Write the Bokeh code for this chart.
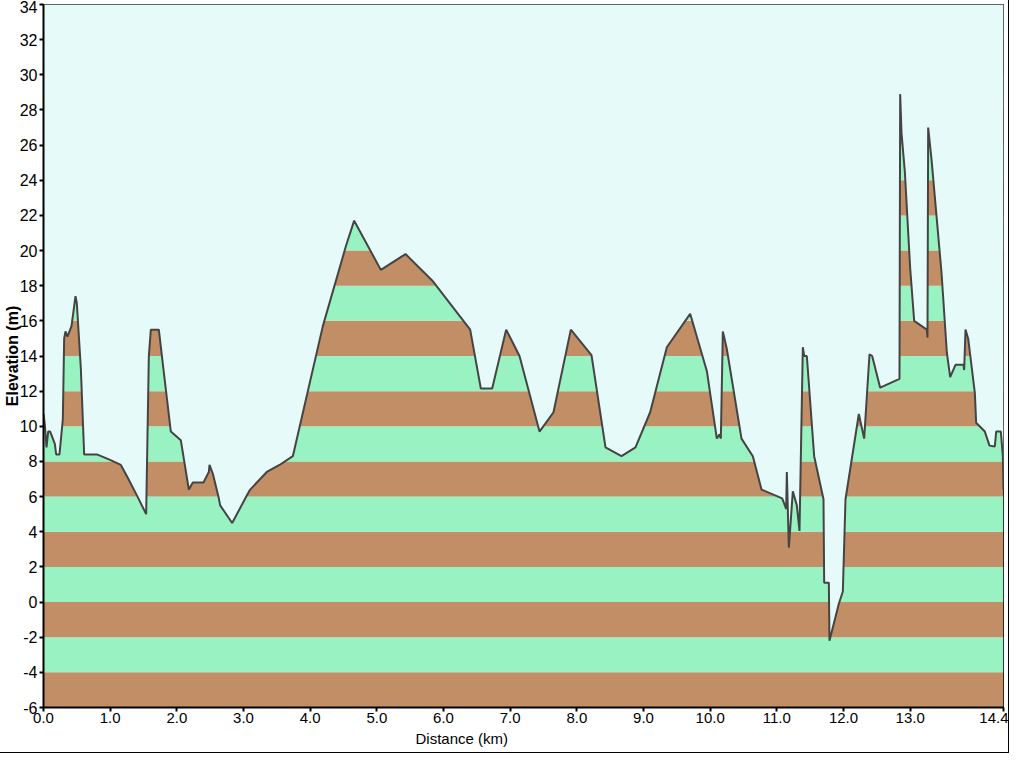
from bokeh.plotting import figure
from bokeh.models import FixedTicker, NumeralTickFormatter, Title, ColumnDataSource
from bokeh.embed import file_html
from bokeh.resources import INLINE

# ---- data -------------------------------------------------------------
distance_km = [0.00, 0.02, 0.045, 0.07, 0.10, 0.17, 0.19, 0.24, 0.29, 0.31,
               0.33, 0.36, 0.42, 0.48, 0.50, 0.56, 0.61, 0.80, 0.99, 1.16,
               1.26, 1.41, 1.54, 1.58, 1.61, 1.73, 1.81, 1.91, 2.06, 2.18,
               2.24, 2.40, 2.48, 2.49, 2.54, 2.63, 2.65, 2.83, 3.07, 3.10,
               3.35, 3.54, 3.74, 4.19, 4.54, 4.66, 5.06, 5.43, 5.83, 6.40,
               6.56, 6.73, 6.94, 7.14, 7.44, 7.65, 7.91, 8.22, 8.43, 8.67,
               8.88, 9.10, 9.35, 9.70, 9.95, 10.10, 10.14, 10.16, 10.19, 10.25,
               10.47, 10.64, 10.77, 11.08, 11.14, 11.15, 11.18, 11.24, 11.30, 11.34,
               11.39, 11.41, 11.45, 11.56, 11.70, 11.71, 11.78, 11.79, 11.93, 11.99,
               12.03, 12.23, 12.31, 12.39, 12.43, 12.55, 12.84, 12.85, 12.87, 12.92,
               13.00, 13.06, 13.25, 13.26, 13.27, 13.32, 13.47, 13.55, 13.60, 13.68,
               13.80, 13.81, 13.83, 13.87, 13.97, 13.99, 14.12, 14.19, 14.27, 14.29,
               14.36, 14.39, 14.40]
elevation_m = [10.7, 10.1, 8.8, 9.7, 9.7, 9.0, 8.4, 8.4, 10.4, 15.0,
               15.4, 15.1, 15.7, 17.4, 17.0, 13.3, 8.4, 8.4, 8.1, 7.8,
               7.1, 6.0, 5.0, 14.0, 15.5, 15.5, 12.9, 9.7, 9.2, 6.4,
               6.8, 6.8, 7.4, 7.8, 7.3, 5.9, 5.5, 4.5, 6.2, 6.4,
               7.4, 7.8, 8.3, 15.7, 20.3, 21.7, 18.9, 19.8, 18.3, 15.5,
               12.15, 12.15, 15.5, 14.0, 9.7, 10.8, 15.5, 14.05, 8.8, 8.3,
               8.8, 10.8, 14.5, 16.4, 13.15, 9.3, 9.55, 9.3, 15.4, 14.4,
               9.3, 8.3, 6.4, 5.9, 5.3, 7.4, 3.1, 6.3, 5.5, 4.05,
               14.5, 14.0, 14.0, 8.3, 5.85, 1.1, 1.1, -2.2, -0.1, 0.6,
               5.85, 10.7, 9.3, 14.1, 14.0, 12.2, 12.7, 28.9, 26.7, 24.5,
               19.0, 16.0, 15.5, 15.05, 27.0, 25.2, 18.75, 14.2, 12.8, 13.5,
               13.5, 13.2, 15.5, 15.0, 11.9, 10.2, 9.7, 8.9, 8.85, 9.7,
               9.7, 8.3, 6.4]

band_bottoms = [-6, -4, -2, 0, 2, 4, 6, 8, 10, 12, 14, 16, 18, 20, 22, 24, 26, 28, 30, 32]
band_tops = [-4, -2, 0, 2, 4, 6, 8, 10, 12, 14, 16, 18, 20, 22, 24, 26, 28, 30, 32, 34]

x_ticks = [0, 1, 2, 3, 4, 5, 6, 7, 8, 9, 10, 11, 12, 13, 14.4]
y_ticks = [-6, -4, -2, 0, 2, 4, 6, 8, 10, 12, 14, 16, 18, 20, 22, 24, 26, 28, 30, 32, 34]

X_MIN, X_MAX = 0, 14.4
Y_MIN, Y_MAX = -6, 34

BROWN = "#c28e66"
GREEN = "#98f2c2"
BG = "#e6fafa"
FONT = "Liberation Sans"

# ---- figure -----------------------------------------------------------
p = figure(width=1008, height=752, x_range=(X_MIN, X_MAX), y_range=(Y_MIN, Y_MAX),
           output_backend="svg", toolbar_location=None,
           min_border_left=38, min_border_right=5, min_border_top=4, min_border_bottom=45,
           background_fill_color=BG, border_fill_color="white")
p.styles = {"outline": "1px solid black"}
p.grid.visible = False
p.outline_line_color = "black"
p.outline_line_width = 1

band_colors = [BROWN if i % 2 == 0 else GREEN for i in range(len(band_bottoms))]
bands = ColumnDataSource(dict(bottom=band_bottoms, top=band_tops,
                              left=[X_MIN] * len(band_bottoms),
                              right=[X_MAX] * len(band_bottoms),
                              color=band_colors))
p.quad(left="left", right="right", bottom="bottom", top="top", source=bands,
       fill_color="color", line_color=None)

# cover the region above the profile with background colour
prof = ColumnDataSource(dict(x=distance_km, y=elevation_m, top=[Y_MAX] * len(distance_km)))
p.varea(x="x", y1="y", y2="top", source=prof, fill_color=BG)
p.line(x="x", y="y", source=prof, line_color="#444444", line_width=2)

# axes
xa = p.xaxis[0]
xa.ticker = FixedTicker(ticks=x_ticks)
xa.formatter = NumeralTickFormatter(format="0.0")
xa.major_label_text_font = FONT
xa.major_label_text_font_size = "15px"
xa.major_label_text_color = "black"
xa.major_label_standoff = 1
xa.axis_line_width = 2
xa.axis_line_color = "black"
xa.major_tick_line_width = 2
xa.major_tick_line_color = "black"
xa.major_tick_out = 4
xa.major_tick_in = 0
xa.minor_tick_line_color = None

ya = p.yaxis[0]
ya.ticker = FixedTicker(ticks=y_ticks)
ya.formatter = NumeralTickFormatter(format="0")
ya.major_label_text_font = FONT
ya.major_label_text_font_size = "16px"
ya.major_label_text_color = "black"
ya.major_label_standoff = 2
ya.axis_line_width = 2
ya.axis_line_color = "black"
ya.major_tick_line_width = 2
ya.major_tick_line_color = "black"
ya.major_tick_out = 4
ya.major_tick_in = 0
ya.minor_tick_line_color = None
ya.axis_label = "Elevation (m)"
ya.axis_label_text_font = FONT
ya.axis_label_text_font_style = "bold"
ya.axis_label_text_font_size = "16px"
ya.axis_label_text_color = "black"
ya.axis_label_standoff = -4

xtitle = Title(text="Distance   (km)", align="left", offset=372,
               text_font=FONT, text_font_size="15px", text_font_style="normal",
               text_color="black", standoff=5)
p.add_layout(xtitle, "below")

open("out.html", "w").write(file_html(p, INLINE))
